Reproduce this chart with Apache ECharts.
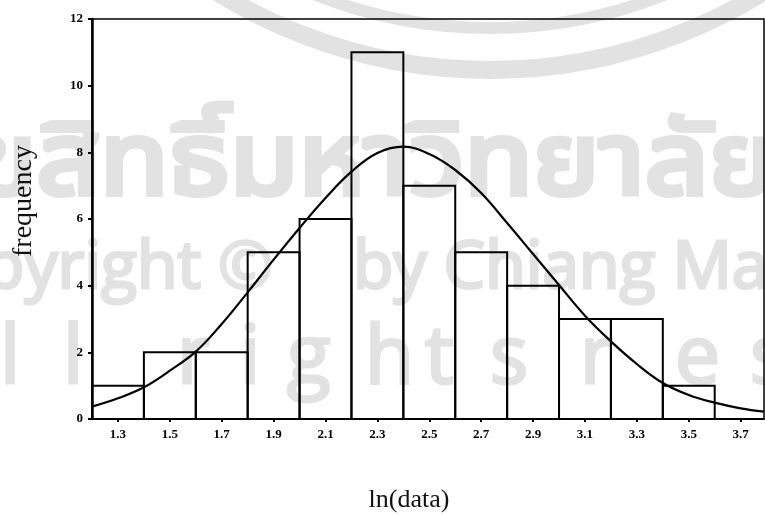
<!DOCTYPE html>
<html>
<head>
<meta charset="utf-8">
<script src="https://cdn.jsdelivr.net/npm/echarts@6/dist/echarts.min.js"></script>
<style>
  html, body { margin: 0; padding: 0; background: #fff; }
  #chart { width: 765px; height: 516px; }
</style>
</head>
<body>
<div id="chart"></div>
<script>
// Histogram of ln(data): bin edges and frequencies
const binEdges = [1.2, 1.4, 1.6, 1.8, 2.0, 2.2, 2.4, 2.6, 2.8, 3.0, 3.2, 3.4, 3.6];
const counts   = [1, 2, 2, 5, 6, 11, 7, 5, 4, 3, 3, 1];

// Fitted normal curve, sampled along the axis
const curveX = [1.2, 1.3, 1.4, 1.5, 1.6, 1.7, 1.8, 1.9, 2.0, 2.1, 2.2, 2.3, 2.4, 2.5, 2.6, 2.7, 2.8, 2.9, 3.0, 3.1, 3.2, 3.3, 3.4, 3.5, 3.6, 3.7, 3.79];
const curveY = [0.37, 0.62, 0.95, 1.45, 2.02, 2.85, 3.80, 4.78, 5.73, 6.63, 7.42, 7.98, 8.17, 7.95, 7.47, 6.78, 5.88, 4.95, 4.02, 3.10, 2.33, 1.65, 1.08, 0.72, 0.49, 0.32, 0.22];

// Axis tick labels
const xTickLabels = [1.3, 1.5, 1.7, 1.9, 2.1, 2.3, 2.5, 2.7, 2.9, 3.1, 3.3, 3.5, 3.7];
const yTickLabels = [0, 2, 4, 6, 8, 10, 12];

const chart = echarts.init(document.getElementById('chart'), null, { renderer: 'canvas' });

const wmColor = '#e2e2e2';
const serif = '"Liberation Serif", "DejaVu Serif", serif';

// Spaced lettering of the bottom watermark line
const rowChars = [['l', 0], ['l', 63], ['r', 177], ['i', 240], ['g', 287], ['h', 365], ['t', 425], ['s', 490], ['r', 580], ['e', 675], ['s', 750]];

function wmText(text, x, y, font, align, weight, scaleX) {
  return { type: 'text', x: x, y: y, z: -10, silent: true, scaleX: scaleX || 1,
    style: { text: text, fill: wmColor, stroke: wmColor, lineWidth: weight || 0,
             font: font, align: align || 'left', verticalAlign: 'middle' } };
}

const watermark = [
  { type: 'circle', shape: { cx: 490, cy: -447, r: 517 }, style: { fill: 'none', stroke: wmColor, lineWidth: 18 }, z: -10, silent: true },
  { type: 'circle', shape: { cx: 490, cy: -447, r: 475 }, style: { fill: 'none', stroke: wmColor, lineWidth: 12 }, z: -10, silent: true },
  wmText('ขสิทธิ์มหาวิทยาลัย', -25, 174, '100px "Noto Sans Thai", "Noto Sans", sans-serif', 'left', 6, 1.12),
  wmText('Copyright ©', 273, 269, '66px "Open Sans", sans-serif', 'right', 3),
  wmText('by Chiang Mai University', 353, 269, '66px "Open Sans", sans-serif', 'left', 3)
].concat(rowChars.map(([ch, x]) => wmText(ch, x, 360, '80px "Open Sans", sans-serif', 'left', 3)));

const bins = counts.map((c, i) => [binEdges[i], binEdges[i + 1], c]);

chart.setOption({
  animation: false,
  backgroundColor: '#fff',
  grid: { left: 92, right: 1, top: 19, bottom: 97, show: true, borderColor: '#000', borderWidth: 1.5, backgroundColor: 'transparent' },
  xAxis: {
    type: 'value', min: 1.2, max: 3.79,
    axisLine: { show: true, lineStyle: { color: '#000', width: 2 } },
    axisTick: { show: true, customValues: xTickLabels, length: 3, inside: false, lineStyle: { color: '#000', width: 2 } },
    axisLabel: { customValues: xTickLabels, formatter: v => v.toFixed(1), color: '#000', fontFamily: serif, fontWeight: 'bold', fontSize: 13, margin: 9 },
    splitLine: { show: false }
  },
  yAxis: {
    type: 'value', min: 0, max: 12, interval: 2,
    axisLine: { show: true, lineStyle: { color: '#000', width: 2.5 } },
    axisTick: { show: true, length: 4, lineStyle: { color: '#000', width: 2 } },
    axisLabel: { color: '#000', fontFamily: serif, fontWeight: 'bold', fontSize: 13, margin: 9 },
    splitLine: { show: false }
  },
  graphic: watermark.concat([
    { type: 'text', x: 24, y: 201, rotation: Math.PI / 2, silent: true,
      style: { text: 'frequency', fill: '#111', font: '28px ' + serif, align: 'center', verticalAlign: 'middle' } },
    { type: 'text', x: 409, y: 500, silent: true,
      style: { text: 'ln(data)', fill: '#111', font: '26px ' + serif, align: 'center', verticalAlign: 'middle' } }
  ]),
  series: [
    {
      type: 'custom',
      data: bins,
      encode: { x: [0, 1], y: 2 },
      renderItem: function (params, api) {
        const top = api.coord([api.value(0), api.value(2)]);
        const base = api.coord([api.value(1), 0]);
        return {
          type: 'rect',
          shape: { x: top[0], y: top[1], width: base[0] - top[0], height: base[1] - top[1] },
          style: { fill: 'none', stroke: '#000', lineWidth: 2 }
        };
      },
      z: 3
    },
    {
      type: 'line',
      data: curveX.map((x, i) => [x, curveY[i]]),
      smooth: 0.4,
      showSymbol: false,
      lineStyle: { color: '#000', width: 2.2 },
      z: 4
    }
  ]
});
</script>
</body>
</html>
